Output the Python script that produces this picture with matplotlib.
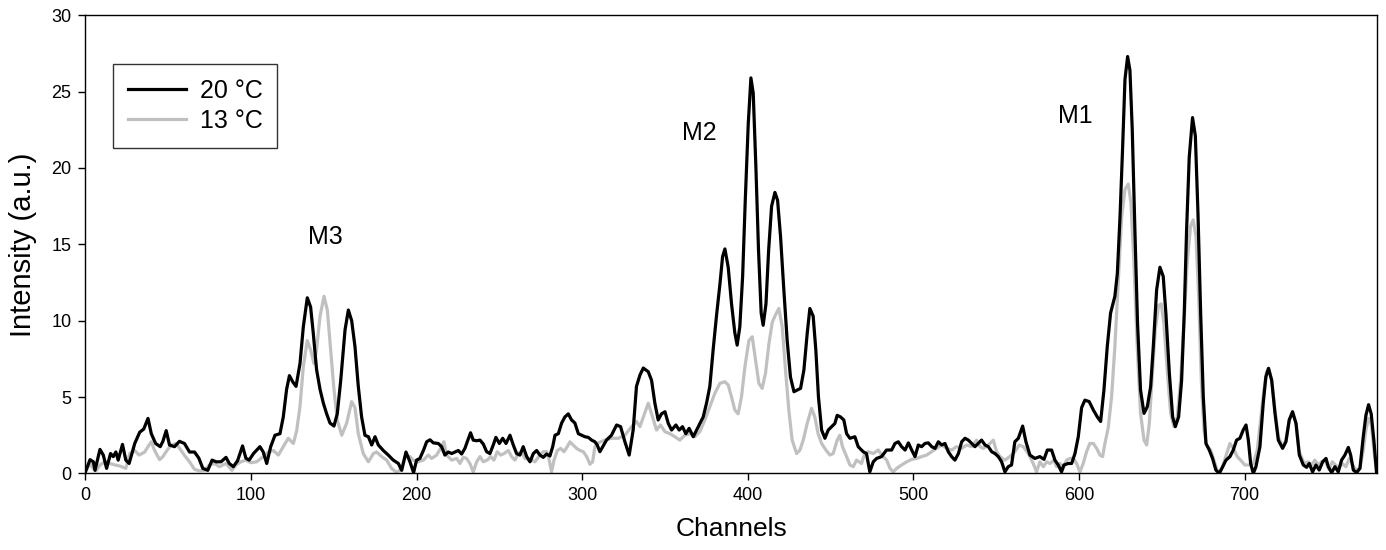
import matplotlib
matplotlib.use("Agg")
import matplotlib.pyplot as plt

plt.rcParams['font.family'] = ['Liberation Sans', 'DejaVu Sans']

# 20 °C series (black)
ch_20 = [0, 2.8, 4.8, 5.8, 8.8, 10.8, 12.8, 15.2, 16.8, 18.4, 19.8, 22.4, 24.4, 26.4, 29.8, 32.8, 35.2, 37.8,
         39.8, 42.4, 45.2, 46.8, 48.8, 50.8, 53.8, 56.8, 59.8, 62.9, 65.9, 68.5, 70.9, 73.9, 76.5, 78.9, 81.9,
         84.9, 86.9, 89.3, 91.9, 94.9, 96.9, 98.9, 101.5, 105.4, 107.4, 109.5, 111.9, 114.5, 117.5, 119.5,
         121.5, 123.2, 125.2, 127.2, 129.6, 131.6, 134.0, 136.0, 137.6, 139.6, 141.7, 143.7, 145.7, 147.7,
         150.1, 152.1, 154.2, 156.8, 158.8, 160.8, 162.8, 164.8, 166.8, 168.8, 170.9, 172.9, 174.9, 176.9,
         179.9, 182.9, 185.9, 189.0, 191.0, 193.6, 196.0, 198.2, 200.0, 202.0, 204.1, 206.1, 208.1, 210.1,
         213.1, 215.1, 217.1, 219.1, 221.2, 223.2, 225.2, 227.2, 229.2, 230.6, 232.6, 234.2, 236.3, 238.3,
         240.3, 242.3, 244.3, 246.3, 247.9, 250.0, 252.0, 254.0, 256.4, 258.4, 260.4, 262.4, 264.4, 266.5,
         268.5, 270.5, 272.5, 274.5, 276.5, 278.5, 280.5, 282.2, 283.6, 285.6, 287.6, 289.6, 291.6, 293.6,
         295.6, 297.7, 299.7, 301.7, 303.7, 305.7, 307.7, 309.1, 310.7, 314.7, 317.7, 320.8, 323.2, 325.8,
         328.4, 330.8, 332.8, 334.9, 336.9, 339.9, 341.9, 343.9, 345.9, 347.9, 350.0, 352.0, 354.0, 356.6,
         358.6, 360.6, 362.6, 364.6, 367.1, 369.1, 371.1, 373.1, 375.1, 377.1, 379.1, 381.1, 383.2, 384.8,
         386.2, 388.2, 390.2, 392.2, 393.6, 395.2, 396.9, 398.5, 400.3, 401.9, 403.3, 404.9, 406.5, 408.1,
         409.3, 411.0, 412.6, 414.4, 416.4, 418.0, 419.8, 421.8, 423.8, 425.8, 427.9, 429.9, 431.9, 433.9,
         435.9, 437.5, 439.5, 441.1, 442.7, 444.6, 446.6, 448.6, 450.6, 452.6, 454.0, 456.0, 458.0, 459.7,
         461.7, 464.7, 466.7, 469.7, 471.7, 473.7, 475.8, 477.8, 480.8, 483.8, 486.9, 488.9, 490.9, 492.9,
         495.0, 497.0, 499.0, 501.0, 503.0, 505.0, 507.0, 509.0, 511.1, 513.1, 515.1, 517.1, 519.1, 521.1,
         523.1, 525.1, 527.2, 529.2, 531.2, 533.2, 535.2, 537.2, 539.2, 541.2, 543.3, 545.3, 547.3, 549.3,
         551.3, 553.3, 555.3, 557.3, 559.3, 561.3, 563.4, 566.0, 568.0, 570.4, 573.4, 576.4, 578.9, 580.9,
         583.5, 585.5, 587.5, 589.5, 590.9, 593.5, 595.6, 597.6, 599.6, 601.6, 603.6, 606.2, 608.7, 611.1,
         613.1, 615.1, 617.1, 619.1, 621.7, 623.2, 624.8, 626.4, 627.8, 629.4, 630.8, 632.2, 633.8, 635.4,
         637.2, 639.3, 641.3, 643.3, 644.9, 646.9, 648.9, 650.9, 652.5, 654.6, 656.6, 658.2, 660.2, 662.0,
         663.6, 665.0, 666.6, 668.6, 670.3, 671.9, 673.5, 675.1, 676.7, 678.7, 680.7, 682.7, 684.8, 686.8,
         688.8, 691.2, 693.2, 695.2, 697.2, 699.2, 700.9, 702.3, 703.7, 705.3, 706.9, 709.3, 711.3, 712.9,
         714.5, 716.4, 718.4, 720.4, 723.0, 725.0, 727.0, 729.0, 731.1, 733.1, 735.5, 737.5, 739.1, 741.1,
         743.1, 745.1, 747.2, 749.2, 750.6, 752.6, 754.6, 756.6, 758.6, 760.6, 762.7, 764.1, 765.7, 767.7,
         769.7, 771.7, 773.3, 774.9, 776.5, 778.1, 779.7]
int_20 = [0.1, 0.9, 0.76, 0.2, 1.57, 1.2, 0.33, 1.3, 1.1, 1.4, 0.87, 1.9, 0.87, 0.65, 1.96, 2.7, 2.9, 3.6,
          2.6, 1.96, 1.75, 2.1, 2.8, 1.86, 1.75, 2.1, 1.96, 1.4, 1.4, 1.0, 0.33, 0.2, 0.87, 0.76, 0.76,
          1.05, 0.65, 0.44, 0.83, 1.8, 1.0, 0.87, 1.3, 1.75, 1.4, 0.65, 1.75, 2.5, 2.6, 3.7,
          5.5, 6.4, 6.0, 5.7, 7.2, 9.6, 11.5, 10.9, 9.2, 6.8, 5.5, 4.6, 3.9, 3.3,
          3.1, 3.9, 6.1, 9.4, 10.7, 10.0, 8.3, 5.7, 3.7, 2.5, 2.4, 1.86, 2.4, 1.86,
          1.5, 1.2, 0.87, 0.65, 0.2, 1.4, 0.76, 0.05, 0.87, 0.98, 1.5, 2.07, 2.2, 2.0,
          1.96, 1.75, 1.2, 1.4, 1.3, 1.4, 1.5, 1.27, 1.64, 2.07, 2.66, 2.18, 2.14, 2.18,
          1.92, 1.42, 1.3, 1.86, 2.36, 1.96, 2.3, 1.96, 2.5, 1.86, 1.3, 1.2, 1.75, 1.1,
          0.76, 1.3, 1.5, 1.2, 1.05, 1.27, 1.14, 1.75, 2.5, 2.6, 3.3, 3.7, 3.9, 3.5,
          3.3, 2.6, 2.5, 2.4, 2.36, 2.18, 2.07, 1.86, 1.42, 2.18, 2.5, 3.17, 3.06, 2.07,
          1.2, 2.84, 5.7, 6.44, 6.9, 6.66, 6.1, 4.6, 3.5, 3.9, 4.04, 3.27, 2.84, 3.17,
          2.84, 3.06, 2.6, 2.95, 2.4, 2.84, 3.27, 3.7, 4.6, 5.7, 8.1, 10.3, 12.4, 14.2,
          14.7, 13.5, 11.1, 9.2, 8.4, 9.6, 12.9, 17.9, 22.9, 25.9, 24.9, 20.1, 14.6, 10.5,
          9.7, 11.1, 14.6, 17.5, 18.4, 17.9, 15.5, 12.0, 8.7, 6.3, 5.35, 5.46, 5.57, 6.77,
          9.17, 10.8, 10.3, 8.1, 5.0, 2.84, 2.3, 2.84, 3.06, 3.27, 3.8, 3.7, 3.5, 2.6,
          2.3, 2.4, 1.75, 1.42, 1.3, 0.1, 0.76, 0.98, 1.1, 1.53, 1.53, 1.96, 2.07, 1.75,
          1.53, 2.0, 1.53, 1.1, 1.86, 1.75, 1.96, 2.0, 1.75, 1.64, 2.07, 1.86, 1.96, 1.42,
          1.1, 0.87, 1.3, 2.07, 2.3, 2.18, 1.96, 1.75, 1.96, 2.18, 1.86, 1.75, 1.42, 1.3,
          1.1, 0.76, 0.1, 0.44, 0.55, 2.07, 2.3, 3.1, 2.07, 1.2, 0.98, 1.1, 0.92, 1.53,
          1.53, 0.87, 0.55, 0.1, 0.55, 0.65, 0.65, 1.3, 2.4, 4.3, 4.8, 4.7, 4.15, 3.7,
          3.4, 5.46, 8.3, 10.5, 11.6, 13.1, 16.8, 21.4, 25.8, 27.3, 26.4, 22.5, 15.9, 9.8,
          5.46, 3.93, 4.37, 5.68, 8.3, 12.0, 13.5, 12.9, 10.5, 6.55, 3.7, 3.06, 3.7, 6.1,
          10.5, 15.9, 20.7, 23.3, 22.1, 17.0, 10.5, 5.0, 1.96, 1.53, 0.98, 0.22, 0.0, 0.44,
          0.87, 1.1, 1.53, 2.18, 2.3, 2.84, 3.17, 2.18, 0.65, 0.0, 0.44, 1.75, 4.6, 6.33,
          6.88, 6.1, 3.93, 2.18, 1.64, 2.07, 3.5, 4.04, 3.27, 1.2, 0.55, 0.4, 0.65, 0.1,
          0.55, 0.22, 0.76, 0.98, 0.44, 0.05, 0.44, 0.1, 0.87, 1.2, 1.7, 1.2, 0.22, 0.05,
          0.33, 2.4, 3.8, 4.5, 3.9, 2.18, 0.1]

# 13 °C series (grey)
ch_13 = [0, 2.8, 4.8, 6.4, 8.8, 11.8, 14.8, 17.9, 20.9, 24.4, 26.8, 29.8, 32.4, 35.8, 37.8, 39.8, 41.8,
         44.8, 46.8, 49.2, 51.8, 54.8, 57.8, 60.4, 62.9, 65.9, 68.9, 71.9, 74.9, 77.9, 80.9, 84.9, 88.5,
         90.9, 93.9, 96.9, 99.9, 103.4, 107.4, 110.5, 113.5, 116.5, 119.5, 122.5, 125.6, 127.6, 129.6,
         131.6, 134.0, 136.0, 138.0, 139.6, 141.7, 144.1, 146.1, 148.1, 150.1, 152.1, 154.8, 157.8, 160.8,
         162.8, 164.8, 167.8, 170.9, 173.9, 175.9, 178.9, 181.9, 184.9, 188.0, 191.0, 193.0, 196.0, 198.0,
         201.0, 204.1, 207.1, 209.1, 212.1, 214.5, 216.5, 218.1, 221.2, 224.2, 226.2, 228.2, 230.2, 232.2,
         234.2, 236.3, 238.3, 240.3, 242.7, 244.7, 246.7, 248.7, 250.8, 252.8, 255.4, 257.4, 259.4, 261.4,
         263.4, 265.4, 268.5, 271.5, 274.5, 276.5, 278.5, 280.1, 281.5, 283.0, 285.0, 287.0, 289.0, 291.0,
         292.6, 294.6, 296.6, 298.7, 300.7, 302.7, 304.7, 306.3, 307.7, 309.7, 313.7, 317.7, 321.8, 325.8,
         329.8, 332.8, 334.9, 337.3, 339.9, 342.5, 344.9, 347.3, 350.0, 353.0, 356.0, 359.0, 362.0, 365.0,
         368.1, 371.1, 374.1, 377.1, 380.1, 383.2, 386.2, 388.2, 390.2, 392.2, 394.2, 396.2, 398.3, 400.7,
         402.7, 404.7, 406.7, 408.7, 410.7, 412.8, 414.8, 416.8, 418.8, 420.8, 422.8, 424.8, 426.8, 429.5,
         431.5, 433.5, 435.9, 438.5, 440.5, 442.5, 444.6, 447.2, 449.6, 451.6, 454.0, 455.6, 457.2, 459.3,
         461.7, 463.7, 465.7, 468.7, 470.3, 472.8, 475.8, 478.8, 480.9, 483.9, 485.9, 487.9, 489.9, 492.9,
         496.0, 499.0, 502.0, 505.0, 508.0, 511.1, 514.1, 517.1, 520.1, 523.1, 526.1, 529.2, 532.2, 535.2,
         538.2, 540.2, 542.3, 545.3, 548.3, 550.3, 552.3, 555.3, 558.3, 561.3, 563.9, 566.4, 569.4, 572.4,
         574.4, 576.4, 578.5, 580.5, 582.5, 584.9, 586.5, 588.5, 590.5, 592.5, 594.6, 596.6, 598.6, 600.6,
         602.6, 604.6, 606.6, 608.7, 610.7, 612.7, 614.3, 615.7, 617.7, 619.7, 621.7, 623.8, 625.8, 627.8,
         629.8, 631.4, 633.2, 635.2, 637.2, 639.3, 640.9, 642.5, 644.1, 646.1, 648.1, 649.7, 651.3, 653.3,
         655.4, 657.4, 659.4, 661.4, 663.4, 665.4, 667.4, 669.0, 670.7, 672.3, 673.9, 675.5, 677.1, 679.5,
         681.5, 684.1, 686.8, 689.2, 691.2, 693.2, 695.6, 697.6, 700.2, 702.9, 705.3, 707.7, 709.7, 711.7,
         713.3, 714.5, 716.4, 718.4, 720.4, 723.0, 725.0, 727.0, 729.0, 731.1, 733.1, 735.9, 738.5, 740.5,
         742.5, 744.5, 746.5, 748.6, 751.0, 753.0, 755.0, 757.0, 759.0, 761.2, 763.3, 765.3, 767.3, 769.7,
         771.7, 773.3, 774.9, 776.5, 778.1, 779.7]
int_13 = [0.1, 0.65, 0.3, 0.17, 0.55, 0.76, 0.65, 0.55, 0.48, 0.33, 1.3, 1.5, 1.2, 1.4, 1.75, 2.07, 1.5,
          0.9, 1.1, 1.5, 1.86, 1.96, 1.5, 1.1, 0.76, 0.26, 0.17, 0.2, 0.55, 0.65, 0.44, 0.65, 0.2,
          0.55, 0.76, 0.87, 0.7, 0.76, 1.1, 1.4, 1.5, 1.2, 1.75, 2.3, 1.96, 2.8, 4.4,
          7.0, 8.7, 8.1, 7.2, 8.1, 10.3, 11.6, 10.7, 8.1, 5.5, 3.5, 2.5, 3.3, 4.7,
          4.3, 2.6, 1.3, 0.76, 1.3, 1.4, 1.1, 0.87, 0.33, 0.05, 0.33, 1.1, 1.1, 0.87,
          0.76, 0.87, 1.2, 0.98, 1.2, 1.64, 2.07, 1.2, 0.87, 0.98, 0.65, 1.05, 0.98, 0.65,
          0.1, 0.76, 1.1, 0.76, 0.87, 1.1, 0.87, 1.42, 1.2, 1.3, 1.5, 1.1, 0.87, 1.3,
          1.42, 0.98, 0.92, 0.76, 1.2, 1.42, 1.42, 0.87, 0.1, 0.87, 1.5, 1.64, 1.42, 1.75,
          2.07, 1.86, 1.64, 1.5, 1.42, 1.1, 0.6, 0.76, 1.75, 2.0, 2.18, 2.3, 2.3, 2.5,
          3.06, 3.4, 3.06, 3.8, 4.6, 3.7, 2.84, 3.17, 2.73, 2.6, 2.4, 2.18, 2.5, 2.6,
          2.4, 2.73, 3.5, 4.37, 5.24, 5.9, 6.0, 5.79, 5.0, 4.15, 3.9, 5.0, 7.0, 8.7,
          8.95, 7.4, 5.9, 5.57, 6.55, 8.5, 9.9, 10.4, 10.8, 9.6, 6.77, 4.15, 2.18, 1.3,
          1.53, 2.18, 3.27, 4.26, 3.7, 2.6, 1.96, 1.53, 1.2, 1.3, 2.18, 2.5, 1.75, 1.2,
          0.55, 0.44, 0.87, 0.65, 1.2, 1.42, 1.3, 1.53, 1.2, 0.87, 0.33, 0.1, 0.33, 0.55,
          0.76, 0.92, 0.98, 1.1, 1.2, 1.42, 1.64, 1.86, 1.64, 1.53, 1.75, 1.64, 1.86, 1.75,
          2.18, 1.75, 1.64, 1.86, 2.18, 1.42, 1.1, 0.87, 1.1, 1.42, 1.86, 1.75, 1.3, 0.65,
          0.1, 0.76, 0.44, 0.76, 0.65, 0.87, 0.44, 0.65, 0.33, 0.87, 0.98, 0.98, 0.65, 0.1,
          0.65, 1.42, 1.96, 1.96, 1.64, 1.2, 1.1, 1.96, 3.0, 5.0, 8.3, 12.7, 16.8, 18.6,
          18.95, 17.7, 13.8, 8.3, 3.93, 2.18, 1.86, 3.27, 6.1, 9.4, 11.0, 11.1, 9.8, 6.77,
          3.93, 3.06, 3.7, 6.1, 9.8, 13.8, 16.2, 16.6, 15.5, 11.6, 6.1, 2.84, 1.86, 1.53,
          0.87, 0.0, 0.44, 1.3, 1.96, 1.64, 1.1, 0.87, 0.55, 0.55, 0.65, 1.53, 3.5, 5.46,
          6.66, 6.88, 6.1, 4.15, 2.4, 1.75, 2.18, 3.5, 3.97, 3.27, 1.42, 0.65, 0.76, 0.55,
          0.87, 0.55, 0.76, 0.87, 0.26, 0.76, 0.55, 0.33, 0.65, 0.44, 0.98, 0.55, 0.22, 0.33,
          1.53, 2.84, 3.6, 3.27, 1.53, 0.1]

series_labels = ['20 °C', '13 °C']
peak_labels = ['M3', 'M2', 'M1']
peak_label_x = [145, 371, 598]
peak_label_y = [15.5, 22.3, 23.4]
x_ticks = [0, 100, 200, 300, 400, 500, 600, 700]
y_ticks = [0, 5, 10, 15, 20, 25, 30]

fig = plt.figure(figsize=(13.86, 5.5), dpi=100)
ax = fig.add_axes([85.4 / 1386, 1 - 473.4 / 550, 1291.6 / 1386, 458.1 / 550])

ax.plot(ch_13, int_13, color='#c0c0c0', lw=2.3, label=series_labels[1], zorder=2,
        solid_joinstyle='round')
ax.plot(ch_20, int_20, color='black', lw=2.3, label=series_labels[0], zorder=3,
        solid_joinstyle='round')

ax.set_xlim(0, 780)
ax.set_ylim(0, 30)
ax.set_xticks(x_ticks)
ax.set_yticks(y_ticks)
ax.tick_params(direction='out', length=5, width=1, labelsize=13, pad=5)
for s in ax.spines.values():
    s.set_linewidth(1.0)

ax.set_xlabel('Channels', fontsize=19, labelpad=9)
ax.set_ylabel('Intensity (a.u.)', fontsize=21, labelpad=10)

for lab, lx, ly in zip(peak_labels, peak_label_x, peak_label_y):
    ax.text(lx, ly, lab, fontsize=18, ha='center', va='center')

handles, labels = ax.get_legend_handles_labels()
order = [1, 0]
leg = ax.legend([handles[i] for i in order], [labels[i] for i in order],
                loc='upper left', bbox_to_anchor=(0.0214, 0.8937), borderaxespad=0,
                fontsize=18, frameon=True, fancybox=False, edgecolor='black',
                handlelength=2.3, handletextpad=0.56, labelspacing=0.25, borderpad=0.6)
leg.get_frame().set_linewidth(1.0)

fig.savefig('out.png', dpi=100)
